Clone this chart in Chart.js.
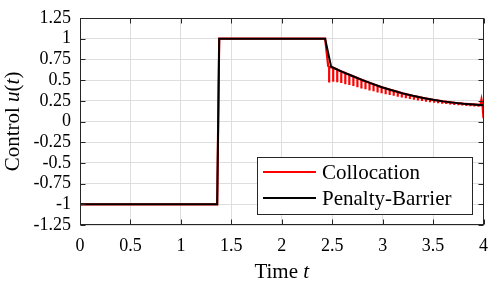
<!DOCTYPE html>
<html>
<head>
<meta charset="utf-8">
<script src="https://cdn.jsdelivr.net/npm/chart.js@4.4.1/dist/chart.umd.min.js"></script>
<style>
html, body { margin: 0; padding: 0; background: #fff; }
#wrap { width: 498px; height: 285px; }
</style>
</head>
<body>
<div id="wrap"><canvas id="c" width="498" height="285"></canvas></div>
<script>
// ---- data ----
const xTicks = [0, 0.5, 1, 1.5, 2, 2.5, 3, 3.5, 4];
const xTickLabels = ['0', '0.5', '1', '1.5', '2', '2.5', '3', '3.5', '4'];
const yTicks = [-1.25, -1, -0.75, -0.5, -0.25, 0, 0.25, 0.5, 0.75, 1, 1.25];
const yTickLabels = ['-1.25', '-1', '-0.75', '-0.5', '-0.25', '0', '0.25', '0.5', '0.75', '1', '1.25'];

// Penalty-Barrier (black)
const blackT = [0, 1.36, 1.38, 2.43, 2.49, 2.5, 2.6, 2.7, 2.8, 2.9, 3.0, 3.1, 3.2, 3.3, 3.4, 3.5, 3.6, 3.7, 3.8, 3.9, 4.0];
const blackU = [-1, -1, 1, 1, 0.66, 0.655, 0.60, 0.55, 0.50, 0.455, 0.41, 0.375, 0.34, 0.31, 0.285, 0.262, 0.243, 0.228, 0.215, 0.205, 0.197];

// Collocation (red): smooth part, then the teeth hanging below, then the end spike
const redT = [0, 1.36, 1.38, 2.43, 2.46];
const redU = [-1, -1, 1, 1, 0.67];
const toothT = [2.47, 2.51, 2.55, 2.59, 2.63, 2.67, 2.71, 2.75, 2.79, 2.83, 2.87, 2.91, 2.95, 2.99,
  3.03, 3.07, 3.11, 3.15, 3.19, 3.23, 3.27, 3.31, 3.35, 3.39, 3.43, 3.47, 3.51, 3.55, 3.59, 3.63,
  3.67, 3.71, 3.75, 3.79, 3.83, 3.87, 3.91, 3.95];
const toothTop = [0.66, 0.65, 0.628, 0.605, 0.585, 0.565, 0.545, 0.525, 0.505, 0.486, 0.468, 0.45, 0.432, 0.414,
  0.40, 0.385, 0.371, 0.357, 0.343, 0.331, 0.319, 0.307, 0.297, 0.287, 0.278, 0.269, 0.26, 0.252, 0.245, 0.238,
  0.232, 0.227, 0.221, 0.216, 0.212, 0.208, 0.205, 0.201];
const toothBot = [0.47, 0.48, 0.475, 0.465, 0.45, 0.44, 0.43, 0.415, 0.40, 0.39, 0.375, 0.365, 0.35, 0.34,
  0.33, 0.32, 0.31, 0.30, 0.29, 0.28, 0.272, 0.263, 0.255, 0.247, 0.24, 0.233, 0.226, 0.22, 0.215, 0.21,
  0.205, 0.20, 0.196, 0.192, 0.188, 0.185, 0.182, 0.178];
const endT = [3.97, 3.98, 3.99, 4.0];
const endU = [0.199, 0.265, 0.20, 0.04];

const serif = '"Liberation Serif", "Times New Roman", serif';
const axisCol = '#262626';

// build {x,y} tables for the library
const blackData = blackT.map((t, i) => ({ x: t, y: blackU[i] }));
const redData = redT.map((t, i) => ({ x: t, y: redU[i] }));
toothT.forEach((t, i) => {
  redData.push({ x: t, y: toothTop[i] }, { x: t, y: toothBot[i] }, { x: t, y: toothTop[i] });
});
endT.forEach((t, i) => redData.push({ x: t, y: endU[i] }));

function drawPieces(ctx, pieces, x, y) {
  // pieces: [text, italic]
  let w = 0;
  pieces.forEach(p => { ctx.font = (p[1] ? 'italic ' : '') + '21px ' + serif; w += ctx.measureText(p[0]).width; });
  let cx = x - w / 2;
  pieces.forEach(p => {
    ctx.font = (p[1] ? 'italic ' : '') + '21px ' + serif;
    ctx.fillText(p[0], cx, y);
    cx += ctx.measureText(p[0]).width;
  });
}

const framePlugin = {
  id: 'frame',
  afterDraw(chart) {
    const ctx = chart.ctx, a = chart.chartArea;
    const xs = chart.scales.x, ys = chart.scales.y;
    const L = Math.round(a.left) + 0.5, R = Math.round(a.right) - 0.5;
    const T = Math.round(a.top) + 0.5, B = Math.round(a.bottom) - 0.5;
    ctx.save();
    ctx.strokeStyle = axisCol;
    ctx.lineWidth = 1;
    ctx.strokeRect(L, T, R - L, B - T);
    ctx.beginPath();
    xTicks.forEach(v => {
      const px = Math.round(xs.getPixelForValue(v)) + 0.5;
      ctx.moveTo(px, B); ctx.lineTo(px, B - 5);
      ctx.moveTo(px, T); ctx.lineTo(px, T + 5);
    });
    yTicks.forEach(v => {
      const py = Math.round(ys.getPixelForValue(v)) + 0.5;
      ctx.moveTo(L, py); ctx.lineTo(L + 5, py);
      ctx.moveTo(R, py); ctx.lineTo(R - 5, py);
    });
    ctx.stroke();

    // legend
    const lx = 257.5, ly = 157.5, lw = 215, lh = 57;
    ctx.fillStyle = '#fff';
    ctx.fillRect(lx, ly, lw, lh);
    ctx.strokeStyle = axisCol;
    ctx.strokeRect(lx, ly, lw, lh);
    const rows = [['Collocation', '#ff0000', 172], ['Penalty-Barrier', '#000000', 198]];
    rows.forEach(r => {
      ctx.strokeStyle = r[1];
      ctx.lineWidth = 2;
      ctx.beginPath();
      ctx.moveTo(263, r[2]); ctx.lineTo(316, r[2]);
      ctx.stroke();
      ctx.fillStyle = '#000';
      ctx.font = '21px ' + serif;
      ctx.textBaseline = 'middle';
      ctx.textAlign = 'left';
      ctx.fillText(r[0], 322, r[2] + 1);
    });

    // axis titles
    ctx.fillStyle = '#000';
    ctx.textAlign = 'left';
    ctx.textBaseline = 'alphabetic';
    drawPieces(ctx, [['Time ', false], ['t', true]], (a.left + a.right) / 2, 278);
    ctx.translate(19, (a.top + a.bottom) / 2);
    ctx.rotate(-Math.PI / 2);
    drawPieces(ctx, [['Control ', false], ['u', true], ['(', false], ['t', true], [')', false]], 0, 0);
    ctx.restore();
  }
};

new Chart(document.getElementById('c'), {
  type: 'line',
  data: {
    datasets: [
      { label: 'Collocation', data: redData, borderColor: '#ff0000', borderWidth: 2.2, pointRadius: 0, tension: 0, order: 2 },
      { label: 'Penalty-Barrier', data: blackData, borderColor: '#000000', borderWidth: 2, pointRadius: 0, tension: 0, order: 1 }
    ]
  },
  options: {
    responsive: false,
    animation: false,
    devicePixelRatio: 1,
    layout: { padding: { top: 12, right: 12, left: 0, bottom: 0 } },
    plugins: { legend: { display: false }, tooltip: { enabled: false } },
    scales: {
      x: {
        type: 'linear', min: 0, max: 4,
        afterBuildTicks: s => { s.ticks = xTicks.map(v => ({ value: v })); },
        afterFit: s => { s.height = 60; },
        ticks: { callback: (v, i) => xTickLabels[i], font: { family: serif, size: 18 }, color: '#000', padding: 10, maxRotation: 0, autoSkip: false },
        grid: { color: '#dedede', drawTicks: false },
        border: { display: false }
      },
      y: {
        type: 'linear', min: -1.25, max: 1.25,
        afterBuildTicks: s => { s.ticks = yTicks.map(v => ({ value: v })); },
        afterFit: s => { s.width = 80; },
        ticks: { callback: (v, i) => yTickLabels[i], font: { family: serif, size: 18, lineHeight: 1 }, color: '#000', padding: 9, autoSkip: false },
        grid: { color: '#dedede', drawTicks: false },
        border: { display: false }
      }
    }
  },
  plugins: [framePlugin]
});
</script>
</body>
</html>
